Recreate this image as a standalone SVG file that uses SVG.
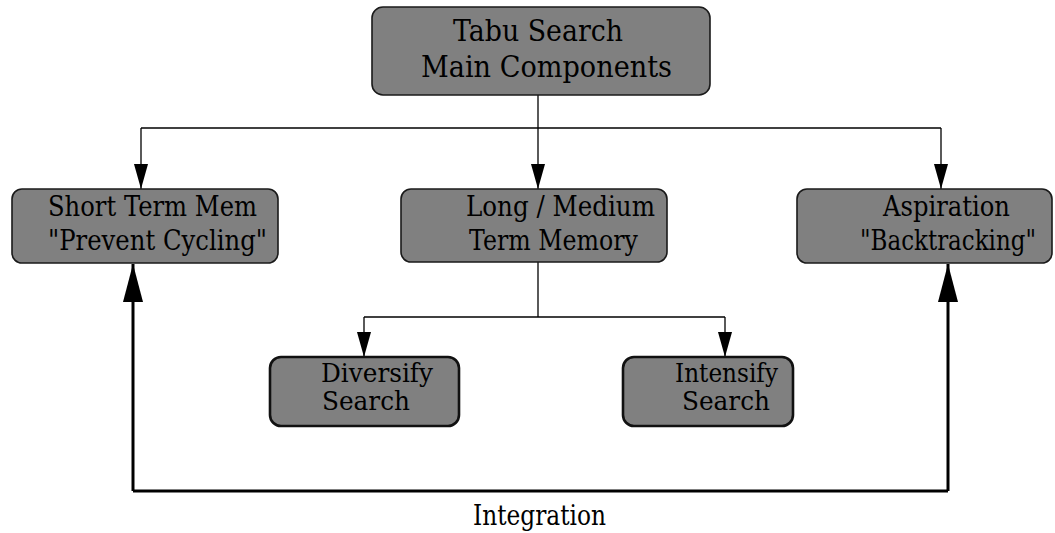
<svg xmlns="http://www.w3.org/2000/svg" width="1055" height="533" viewBox="0 0 1055 533">
  <style>
    .box { fill: #808080; stroke: #1a1a1a; stroke-width: 1.6; }
    .box-bold { fill: #808080; stroke: #111111; stroke-width: 2.6; }
    text { font-family: "DejaVu Serif", "Liberation Serif", serif; fill: #000000; }
    .lbl { font-size: 27px; }
    .lbl-sm { font-size: 26px; }
    .lbl-top { font-size: 30px; }
    .thin { fill: none; stroke: #000000; stroke-width: 1.3; }
    .thick { fill: none; stroke: #000000; stroke-width: 3; }
  </style>
  <defs>
    <marker id="arrow-thin" markerUnits="userSpaceOnUse" markerWidth="26" markerHeight="14" viewBox="0 0 26 14" refX="25" refY="7" orient="auto">
      <path d="M0 0 L25 7 L0 14 Z" fill="#000000"/>
    </marker>
    <marker id="arrow-thick" markerUnits="userSpaceOnUse" markerWidth="39" markerHeight="20" viewBox="0 0 39 20" refX="38" refY="10" orient="auto">
      <path d="M0 0 L38 10 L0 20 Z" fill="#000000"/>
    </marker>
  </defs>

  <rect width="1055" height="533" fill="#ffffff"/>

  <!-- connectors -->
  <g id="connectors">
    <path class="thin" d="M538 95 V128"/>
    <path class="thin" d="M141 128 H941"/>
    <path class="thin" d="M141 128 V189" marker-end="url(#arrow-thin)"/>
    <path class="thin" d="M538 128 V189" marker-end="url(#arrow-thin)"/>
    <path class="thin" d="M941 128 V189" marker-end="url(#arrow-thin)"/>

    <path class="thin" d="M538 262 V317"/>
    <path class="thin" d="M364 317 H725"/>
    <path class="thin" d="M364 317 V357" marker-end="url(#arrow-thin)"/>
    <path class="thin" d="M725 317 V357" marker-end="url(#arrow-thin)"/>

    <path class="thick" d="M133 491 H948"/>
    <path class="thick" d="M133 491 V264" marker-end="url(#arrow-thick)"/>
    <path class="thick" d="M948 491 V264" marker-end="url(#arrow-thick)"/>
    <text class="lbl" x="473" y="525" textLength="133" lengthAdjust="spacingAndGlyphs">Integration</text>
  </g>

  <!-- root -->
  <g id="tabu-search">
    <rect class="box" x="372" y="7" width="338" height="88" rx="11"/>
    <text class="lbl-top" x="453" y="41" textLength="170" lengthAdjust="spacingAndGlyphs">Tabu Search</text>
    <text class="lbl-top" x="421" y="77" textLength="251" lengthAdjust="spacingAndGlyphs">Main Components</text>
  </g>

  <g id="short-term">
    <rect class="box" x="12" y="189" width="266" height="74" rx="10"/>
    <text class="lbl" x="48" y="216" textLength="209" lengthAdjust="spacingAndGlyphs">Short Term Mem</text>
    <text class="lbl" x="48" y="250" textLength="219" lengthAdjust="spacingAndGlyphs">"Prevent Cycling"</text>
  </g>

  <g id="long-medium">
    <rect class="box" x="401" y="189" width="266" height="73" rx="10"/>
    <text class="lbl" x="466" y="216" textLength="189" lengthAdjust="spacingAndGlyphs">Long / Medium</text>
    <text class="lbl" x="469" y="250" textLength="169" lengthAdjust="spacingAndGlyphs">Term Memory</text>
  </g>

  <g id="aspiration">
    <rect class="box" x="797" y="189" width="255" height="74" rx="10"/>
    <text class="lbl" x="883" y="216" textLength="127" lengthAdjust="spacingAndGlyphs">Aspiration</text>
    <text class="lbl" x="860" y="250" textLength="176" lengthAdjust="spacingAndGlyphs">"Backtracking"</text>
  </g>

  <g id="diversify">
    <rect class="box-bold" x="270" y="357" width="189" height="69" rx="11"/>
    <text class="lbl-sm" x="321" y="382" textLength="112" lengthAdjust="spacingAndGlyphs">Diversify</text>
    <text class="lbl-sm" x="322" y="410" textLength="88" lengthAdjust="spacingAndGlyphs">Search</text>
  </g>

  <g id="intensify">
    <rect class="box-bold" x="623" y="357" width="170" height="69" rx="11"/>
    <text class="lbl-sm" x="675" y="382" textLength="103" lengthAdjust="spacingAndGlyphs">Intensify</text>
    <text class="lbl-sm" x="682" y="410" textLength="88" lengthAdjust="spacingAndGlyphs">Search</text>
  </g>
</svg>
